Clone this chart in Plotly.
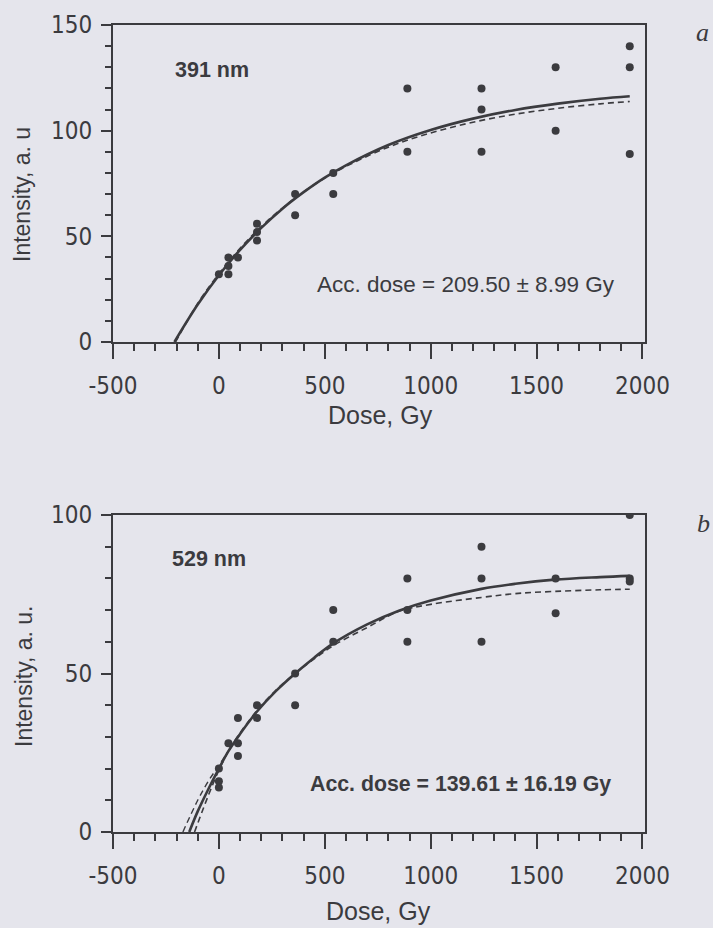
import plotly.graph_objects as go

# ---------------- data: panel a (391 nm) ----------------
a_dose = [0, 45, 45, 45, 90, 180, 180, 180, 360, 360, 540, 540,
          890, 890, 1240, 1240, 1240, 1590, 1590, 1940, 1940, 1940]
a_int = [32, 32, 36, 40, 40, 56, 52, 48, 70, 60, 80, 70,
         120, 90, 120, 110, 90, 130, 100, 140, 130, 89]

a_fit_dose = [-210, -100, 0, 100, 200, 300, 400, 500, 600, 800, 1000, 1200, 1400, 1600, 1800, 1940]
a_fit_solid = [0, 17.7, 31.6, 43.6, 54.0, 63.1, 70.9, 77.8, 83.6, 93.2, 100.3, 105.7, 109.8, 112.8, 115.1, 116.3]
a_fit_dash_dose = [-205, -100, 0, 100, 200, 300, 400, 500, 600, 800, 1000, 1200, 1400, 1600, 1800, 1940]
a_fit_dash = [0, 18.2, 32.3, 44.3, 54.6, 63.4, 71.0, 77.6, 83.1, 92.2, 98.9, 104.0, 107.8, 110.6, 112.7, 113.8]

# ---------------- data: panel b (529 nm) ----------------
b_dose = [0, 0, 0, 45, 90, 90, 90, 180, 180, 360, 360, 540, 540,
          890, 890, 890, 1240, 1240, 1240, 1590, 1590, 1940, 1940, 1940]
b_int = [14, 16, 20, 28, 28, 24, 36, 36, 40, 40, 50, 70, 60,
         80, 70, 60, 90, 80, 60, 80, 69, 100, 80, 79]

b_fit_dose = [-140, -100, -50, 0, 45, 90, 180, 270, 360, 450, 540, 700, 850, 1000, 1240, 1400, 1585, 1800, 1940]
b_fit_solid = [0, 6.5, 13.5, 20, 25.5, 30, 38, 44.5, 50, 55, 59.5, 65.5, 69.8, 73, 76.7, 78.3, 79.6, 80.4, 80.8]
b_fit_dash_dose = [-115, -50, 0, 45, 90, 180, 270, 360, 450, 540, 700, 850, 1000, 1240, 1400, 1585, 1800, 1940]
b_fit_dash = [0, 11.5, 19.5, 25.5, 30.3, 38.3, 44.8, 50, 54.6, 58.8, 64.5, 69.6, 71.8, 74, 75.2, 75.9, 76.4, 76.6]
b_fit_dash2_dose = [-170, -100, -50, 0, 50, 100]
b_fit_dash2 = [0, 10, 16, 21, 26, 30.8]

x_ticks = [-500, 0, 500, 1000, 1500, 2000]
a_y_ticks = [0, 50, 100, 150]
b_y_ticks = [0, 50, 100]

INK = "#3b3b3f"
BG = "#e5e5ec"
TICKFONT = dict(family="DejaVu Sans Condensed, Liberation Sans Narrow, Liberation Sans, Arial", size=24, color=INK)
TEXTFONT = dict(family="Liberation Sans, Arial", size=22.5, color=INK)
BOLDFONT = dict(family="Liberation Sans, Arial", size=21.3, color=INK, weight="bold")
LABELFONT = dict(family="Liberation Sans, Arial", size=21.5, color=INK, weight="bold")

fig = go.Figure()

def add_panel(xa, ya, dose, inten, fd, fs, fdd, fds, extra=None):
    fig.add_trace(go.Scatter(x=fd, y=fs, mode="lines", line=dict(color=INK, width=2.6, shape="spline"),
                             xaxis=xa, yaxis=ya, showlegend=False, hoverinfo="skip"))
    fig.add_trace(go.Scatter(x=fdd, y=fds, mode="lines",
                             line=dict(color=INK, width=1.6, dash="6px,4px", shape="spline"),
                             xaxis=xa, yaxis=ya, showlegend=False, hoverinfo="skip"))
    if extra:
        fig.add_trace(go.Scatter(x=extra[0], y=extra[1], mode="lines",
                                 line=dict(color=INK, width=1.4, dash="6px,4px", shape="spline"),
                                 xaxis=xa, yaxis=ya, showlegend=False, hoverinfo="skip"))
    fig.add_trace(go.Scatter(x=dose, y=inten, mode="markers",
                             marker=dict(color=INK, size=8, line=dict(width=0)),
                             xaxis=xa, yaxis=ya, showlegend=False))

add_panel("x", "y", a_dose, a_int, a_fit_dose, a_fit_solid, a_fit_dash_dose, a_fit_dash)
add_panel("x2", "y2", b_dose, b_int, b_fit_dose, b_fit_solid, b_fit_dash_dose, b_fit_dash,
          extra=(b_fit_dash2_dose, b_fit_dash2))

W, H = 713, 928
xdom = [113 / W, 645 / W]

def xaxis(anchor):
    return dict(domain=xdom, range=[-500, 2012], anchor=anchor, automargin=False,
                tickvals=x_ticks, ticktext=[str(v) for v in x_ticks],
                ticks="outside", ticklen=15, tickwidth=2, tickcolor=INK,
                minor=dict(dtick=100, tick0=0, ticks="outside", ticklen=7, tickwidth=1.5, tickcolor=INK),
                showline=True, linecolor=INK, linewidth=2, mirror=True,
                showgrid=False, zeroline=False, tickfont=TICKFONT, ticklabelstandoff=6)

def yaxis(anchor, dom, rng, ticks, dt):
    return dict(domain=dom, range=rng, anchor=anchor, automargin=False,
                tickvals=ticks, ticktext=[str(v) for v in ticks],
                ticks="outside", ticklen=10, tickwidth=2, tickcolor=INK,
                minor=dict(dtick=dt, tick0=0, ticks="outside", ticklen=6, tickwidth=1.5, tickcolor=INK),
                showline=True, linecolor=INK, linewidth=2, mirror=True,
                showgrid=False, zeroline=False, tickfont=TICKFONT, ticklabelstandoff=4)

fig.update_layout(
    width=W, height=H,
    margin=dict(l=0, r=0, t=0, b=0, autoexpand=False),
    paper_bgcolor=BG, plot_bgcolor=BG,
    xaxis=xaxis("y"),
    yaxis=yaxis("x", [1 - 342 / H, 1 - 25 / H], [0, 150], a_y_ticks, 10),
    xaxis2=xaxis("y2"),
    yaxis2=yaxis("x2", [1 - 832 / H, 1 - 515 / H], [0, 100], b_y_ticks, 10),
)

ann = []
ann.append(dict(text="391 nm", x=-216, y=128.6, xref="x", yref="y", xanchor="left", yanchor="middle",
                showarrow=False, font=LABELFONT))
ann.append(dict(text="Acc. dose = 209.50 ± 8.99 Gy", x=455, y=27.0, xref="x", yref="y",
                xanchor="left", yanchor="middle", showarrow=False, font=TEXTFONT))
ann.append(dict(text="529 nm", x=-230, y=86.2, xref="x2", yref="y2", xanchor="left", yanchor="middle",
                showarrow=False, font=LABELFONT))
ann.append(dict(text="Acc. dose = 139.61 ± 16.19 Gy", x=421, y=15.0, xref="x2", yref="y2",
                xanchor="left", yanchor="middle", showarrow=False, font=BOLDFONT))
TITLEFONT = dict(family="Liberation Sans, Arial", size=25, color=INK)
YTITLEFONT = dict(family="Liberation Sans, Arial", size=23, color=INK)
ann.append(dict(text="Dose, Gy", x=380 / W, y=1 - 415 / H, xref="paper", yref="paper",
                xanchor="center", yanchor="middle", showarrow=False, font=TITLEFONT))
ann.append(dict(text="Dose, Gy", x=378 / W, y=1 - 911 / H, xref="paper", yref="paper",
                xanchor="center", yanchor="middle", showarrow=False, font=TITLEFONT))
ann.append(dict(text="Intensity, a. u", x=22 / W, y=1 - 195 / H, xref="paper", yref="paper",
                xanchor="center", yanchor="middle", textangle=-90, showarrow=False, font=YTITLEFONT))
ann.append(dict(text="Intensity, a. u.", x=24 / W, y=1 - 677 / H, xref="paper", yref="paper",
                xanchor="center", yanchor="middle", textangle=-90, showarrow=False, font=YTITLEFONT))
LETTERFONT = dict(family="Liberation Serif, Times New Roman, serif", size=26, color=INK)
ann.append(dict(text="<i>a</i>", x=702 / W, y=1 - 33 / H, xref="paper", yref="paper",
                xanchor="center", yanchor="middle", showarrow=False, font=LETTERFONT))
ann.append(dict(text="<i>b</i>", x=703 / W, y=1 - 523 / H, xref="paper", yref="paper",
                xanchor="center", yanchor="middle", showarrow=False, font=LETTERFONT))
fig.update_layout(annotations=ann)

fig.write_html("out.html", config={"displayModeBar": False},
               post_script="document.body.style.margin='0px';")
